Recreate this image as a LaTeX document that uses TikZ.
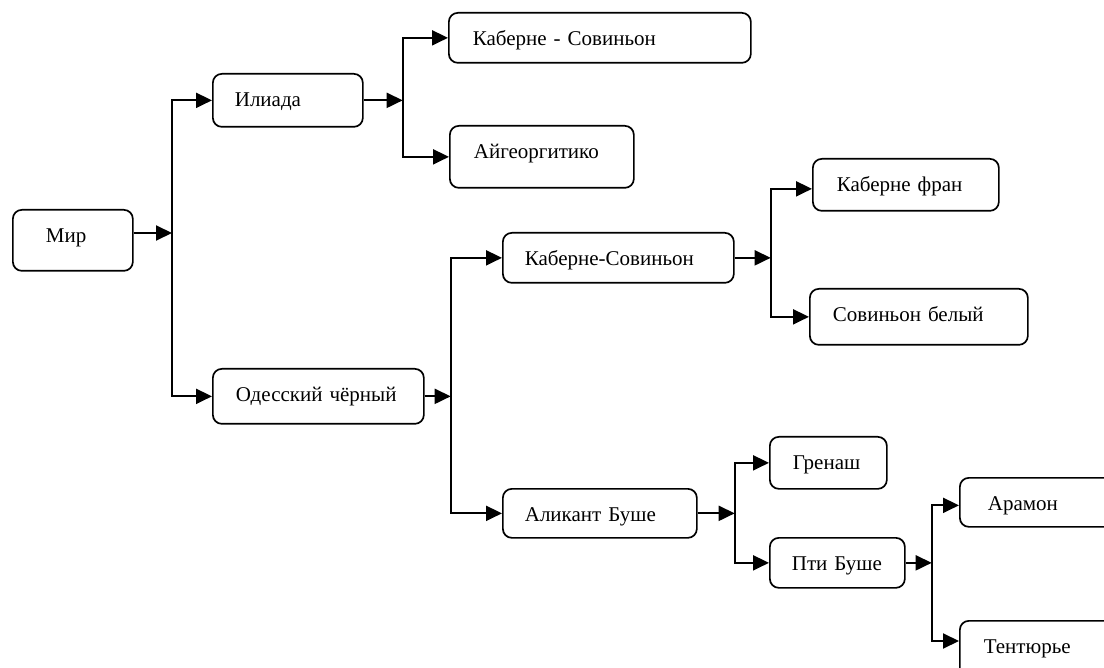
\documentclass[tikz,border=0pt]{standalone}
\usepackage{fontspec}
\setmainfont{Liberation Serif}
\usetikzlibrary{arrows.meta}
\begin{document}
\begin{tikzpicture}[x=1pt,y=-1pt,
  box/.style={draw, line width=1.7pt, rounded corners=9pt, anchor=north west, align=left,
    inner ysep=0pt, text height=33pt, font=\rmfamily\fontsize{21}{25}\selectfont},
  arr/.style={line width=2pt, -{Triangle[length=16pt,width=15pt]}}]
\useasboundingbox (0,0) rectangle (1104,668);
\clip (0,0) rectangle (1104,668);
% boxes
\node[box, text width=54pt, inner xsep=33pt, text depth=28pt] (mir) at (12,209) {Мир};
\node[box, text width=106pt, inner xsep=22pt, text depth=20pt] (iliada) at (212,73) {Илиада};
\node[box, text width=254pt, inner xsep=24pt, text depth=17pt] (ks1) at (448,12) {Каберне~-~Совиньон};
\node[box, text width=136pt, inner xsep=24pt, text depth=29pt] (aig) at (449,125) {Айгеоргитико};
\node[box, text width=165pt, inner xsep=23pt, text depth=22pt] (od) at (212,368) {Одесский~чёрный};
\node[box, text width=187pt, inner xsep=22pt, text depth=17pt] (ks2) at (502,232) {Каберне-Совиньон};
\node[box, text width=150pt, inner xsep=22pt, text depth=16pt] (al) at (502,488) {Аликант~Буше};
\node[box, text width=138pt, inner xsep=24pt, text depth=19pt] (kf) at (812,158) {Каберне~фран};
\node[box, text width=172pt, inner xsep=23pt, text depth=23pt] (sb) at (809,288) {Совиньон~белый};
\node[box, text width=71pt, inner xsep=23pt, text depth=19pt] (gr) at (769,436) {Гренаш};
\node[box, text width=91pt, inner xsep=22pt, text depth=17pt] (pb) at (769,537) {Пти~Буше};
\node[box, text width=164pt, inner xsep=28pt, text depth=16pt] (ar) at (959,477) {Арамон};
\node[box, text width=172pt, inner xsep=24pt, text depth=27pt] (te) at (959,620) {Тентюрье};
% junctions
\coordinate (j1) at (172,233);
\coordinate (j2) at ([xshift=39pt]iliada.east);
\coordinate (j3) at ([xshift=26pt]od.east);
\coordinate (j4) at ([xshift=36pt]ks2.east);
\coordinate (j5) at ([xshift=37pt]al.east);
\coordinate (j6) at ([xshift=26pt]pb.east);
% connectors
\draw[arr] (mir.east |- j1) -- (j1);
\draw[arr] (j1) |- (iliada.west);
\draw[arr] (j1) |- (od.west);
\draw[arr] (iliada.east) -- (j2);
\draw[arr] (j2) |- (ks1.west);
\draw[arr] (j2) |- (aig.west);
\draw[arr] (od.east) -- (j3);
\draw[arr] (j3) |- (ks2.west);
\draw[arr] (j3) |- (al.west);
\draw[arr] (ks2.east) -- (j4);
\draw[arr] (j4) |- ([yshift=-4pt]kf.west);
\draw[arr] (j4) |- (sb.west);
\draw[arr] (al.east) -- (j5);
\draw[arr] (j5) |- (gr.west);
\draw[arr] (j5) |- (pb.west);
\draw[arr] (pb.east) -- (j6);
\draw[arr] (j6) |- ([yshift=-3pt]ar.west);
\draw[arr] (j6) |- ([yshift=-21pt]te.north west);
\end{tikzpicture}
\end{document}
